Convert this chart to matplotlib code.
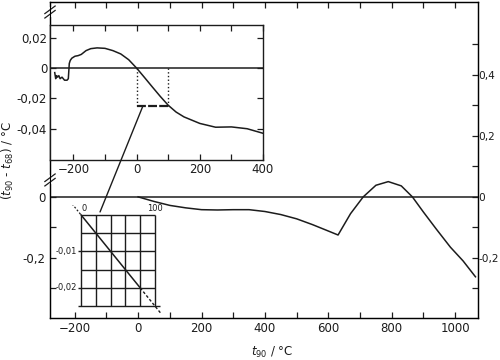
import matplotlib
matplotlib.use('Agg')
import matplotlib.pyplot as plt
from matplotlib.patches import ConnectionPatch
from matplotlib.ticker import FuncFormatter

# Main curve: t90 - t68 over the whole range
main_t = [0, 50, 100, 150, 200, 250, 300, 350, 400, 450, 500, 550, 600, 630.6,
          670, 710, 750, 789, 830, 865, 900, 940, 985, 1025, 1064]
main_dt = [0, -0.015, -0.028, -0.036, -0.042, -0.043, -0.042, -0.042, -0.048,
           -0.058, -0.072, -0.091, -0.112, -0.125, -0.055, 0.0, 0.038, 0.050,
           0.036, 0.0, -0.05, -0.105, -0.165, -0.21, -0.262]

# Upper inset: low-temperature range, enlarged
ins_t = [-259, -256, -253, -250, -246, -242, -236, -228, -220, -216, -213, -210,
         -205, -195, -185, -175, -160, -145, -125, -100, -75, -50, -25, 0,
         25, 50, 75, 100, 125, 150, 200, 250, 300, 350, 400]
ins_dt = [-0.003, -0.007, -0.005, -0.006, -0.005, -0.007, -0.006, -0.008, -0.008,
          -0.007, 0.003, 0.005, 0.0065, 0.0078, 0.0082, 0.009, 0.0115, 0.0128,
          0.0133, 0.013, 0.0115, 0.0093, 0.0055, 0.0, -0.0062, -0.0125, -0.0187,
          -0.0245, -0.0290, -0.0322, -0.0365, -0.039, -0.0388, -0.040, -0.043]

# Lower inset: 0..100 °C grid
grid_x = [0, 20, 40, 60, 80, 100]
grid_y = [0, -0.005, -0.01, -0.015, -0.02, -0.025]

ink = '#1c1c1c'


def comma(v, pos=None):
    s = f'{v:g}'.replace('.', ',')
    return '0' if s == '-0' else s


fig = plt.figure(figsize=(5, 3.6), dpi=100)

# ---- main axes
ax = fig.add_axes([0.1, 0.1167, 0.856, 0.878])
ax.set_xlim(-278, 1072)
ax.set_ylim(-0.397, 0.639)
ax.axhline(0, color=ink, lw=1.1)
ax.plot(main_t, main_dt, color=ink, lw=1.1)
ax.set_xticks([-200, 0, 200, 400, 600, 800, 1000])
ax.set_xticks([-100, 100, 300, 500, 700, 900], minor=True)
ax.set_yticks([0, -0.2])
ax.set_yticks([-0.1, -0.3], minor=True)
ax.yaxis.set_major_formatter(FuncFormatter(comma))
ax.tick_params(which='both', direction='in', top=True, length=4, width=0.9,
               labelsize=8.5, colors=ink, pad=3)
for s in ax.spines.values():
    s.set_color(ink)
    s.set_linewidth(1.0)

ax2 = ax.twinx()
ax2.set_ylim(-0.397, 0.639)
ax2.set_yticks([-0.2, 0, 0.2, 0.4])
ax2.set_yticks([-0.3, -0.1, 0.1, 0.3, 0.5], minor=True)
ax2.yaxis.set_major_formatter(FuncFormatter(comma))
ax2.tick_params(which='both', direction='in', length=4, width=0.9,
                labelsize=7.6, colors=ink, pad=0.5)

# axis-break marks on the left spine
for yb in [0.4367, 0.968]:
    ax.plot([0, 0], [yb - 0.008, yb + 0.008], color='white', lw=3,
            transform=ax.transAxes, clip_on=False, zorder=5)
    for off in [-0.007, 0.007]:
        ax.plot([-0.012, 0.012], [yb + off - 0.012, yb + off + 0.012],
                color=ink, lw=0.9, transform=ax.transAxes, clip_on=False,
                zorder=6)

# ---- upper inset
ins = fig.add_axes([0.1, 0.5556, 0.426, 0.375])
ins.set_xlim(-274, 400)
ins.set_ylim(-0.0606, 0.0284)
ins.axhline(0, color=ink, lw=1.1)
ins.plot(ins_t, ins_dt, color=ink, lw=1.1)
ins.plot([0, 0], [0, -0.025], color=ink, lw=1.0, ls=':')
ins.plot([100, 100], [0, -0.025], color=ink, lw=1.0, ls=':')
ins.plot([0, 100], [-0.025, -0.025], color=ink, lw=1.6, ls=(0, (4, 1)))
ins.set_xticks([-200, 0, 200, 400])
ins.set_xticks([-100, 100, 300], minor=True)
ins.set_yticks([0.02, 0, -0.02, -0.04])
ins.yaxis.set_major_formatter(FuncFormatter(comma))
ins.tick_params(which='both', direction='in', top=True, right=True, length=4,
                width=0.9, labelsize=8.5, colors=ink, pad=2)
for s in ins.spines.values():
    s.set_color(ink)
    s.set_linewidth(1.0)

# ---- lower inset (magnified grid)
ins2 = fig.add_axes([0.14, 0.1111, 0.19, 0.3194])
ins2.set_xlim(-14.9, 113.5)
ins2.set_ylim(-0.0288, 0.0027)
ins2.axis('off')
ins2.vlines(grid_x, grid_y[-1], grid_y[0], color=ink, lw=1.0)
ins2.hlines(grid_y[:-1], grid_x[0], grid_x[-1], color=ink, lw=1.0)
ins2.hlines(grid_y[-1], -4, 107, color=ink, lw=1.0)
ins2.hlines([-0.01, -0.02], -4, 0, color=ink, lw=1.0)
ins2.plot([0, 80], [0, -0.02], color=ink, lw=1.1)
ins2.plot([80, 108], [-0.02, -0.027], color=ink, lw=1.0, ls=(0, (2, 1.5)))
ins2.plot([-12, 0], [0.003, 0], color=ink, lw=0.9, ls=(0, (1.5, 1.5)))
ins2.text(0, 0.0004, '0', fontsize=6, ha='left', va='bottom', color=ink)
ins2.text(100, 0.0004, '100', fontsize=6, ha='center', va='bottom', color=ink)
for v in [-0.01, -0.02]:
    ins2.text(-5, v, comma(v), fontsize=6, ha='right', va='center', color=ink)

con = ConnectionPatch(xyA=(20, -0.025), coordsA='data', axesA=ins,
                      xyB=(25.7, 0.0008), coordsB='data', axesB=ins2,
                      color=ink, lw=1.0)
fig.add_artist(con)

# ---- labels
fig.text(0.016, 0.553, r'($t_{90}$ - $t_{68}$) / °C', rotation=90,
         ha='center', va='center', fontsize=8.5, color=ink)
fig.text(0.544, 0.02, r'$t_{90}$ / °C', ha='center', va='center',
         fontsize=8.5, color=ink)

fig.savefig('out.png', dpi=100)
